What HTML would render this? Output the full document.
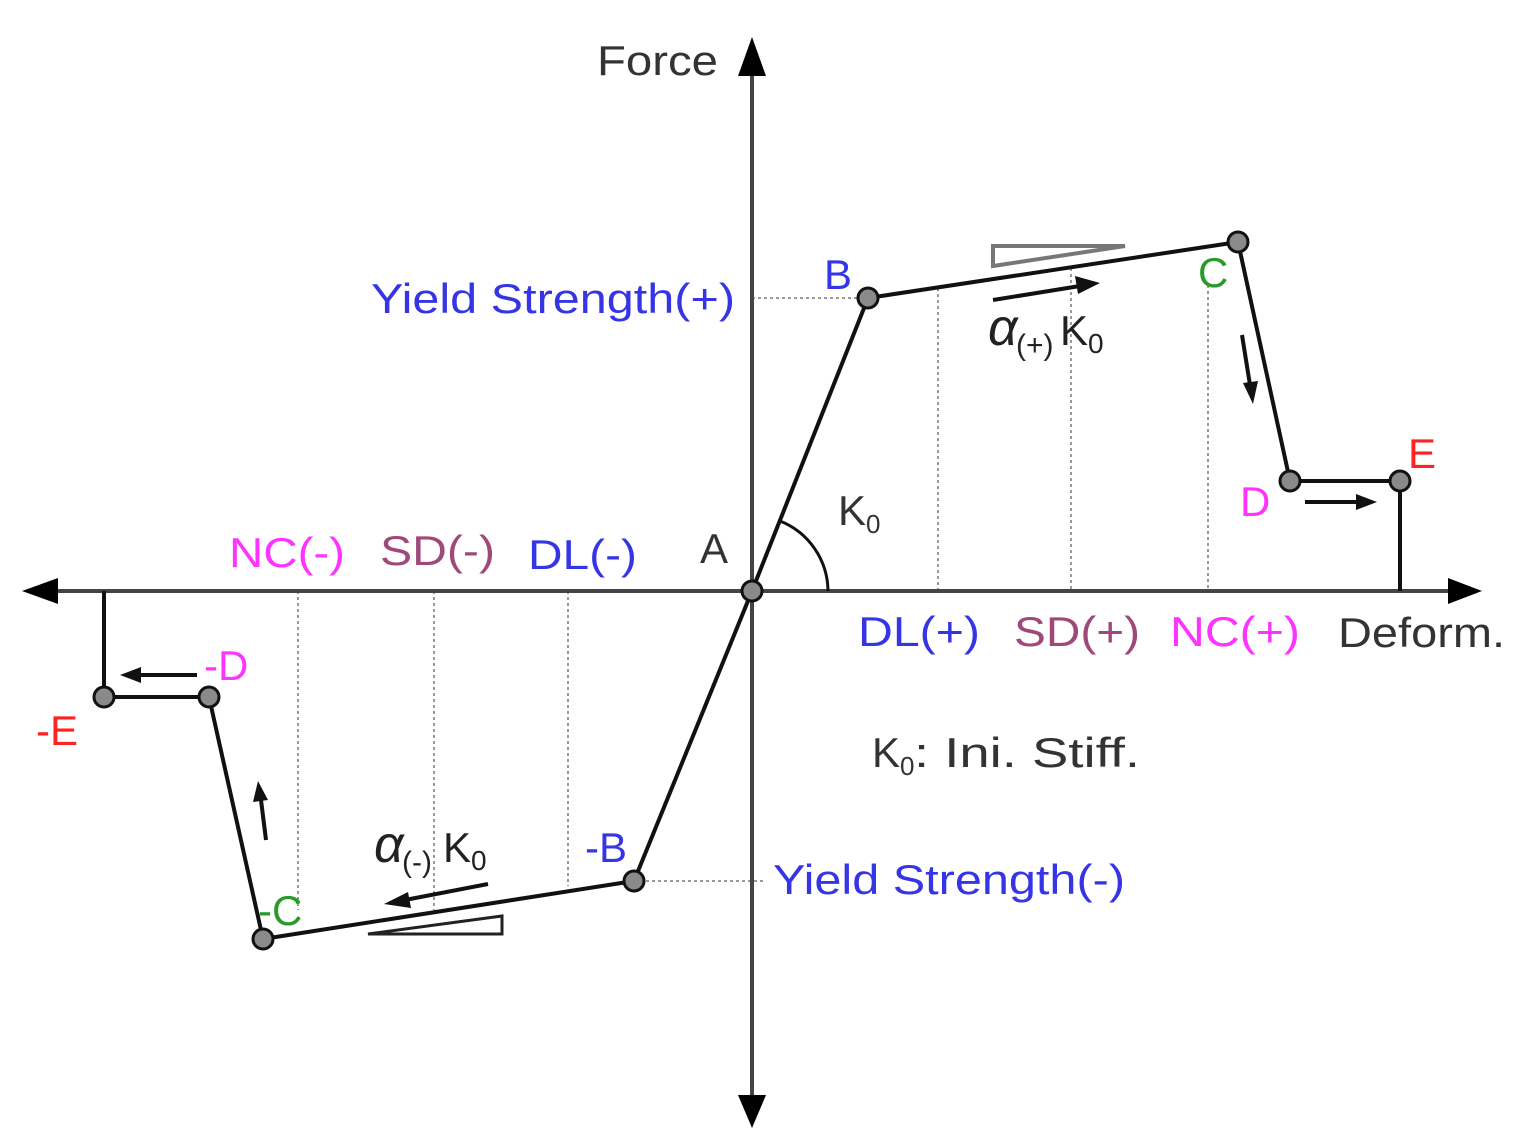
<!DOCTYPE html>
<html><head><meta charset="utf-8"><style>
html,body{margin:0;padding:0;background:#fff;}
svg{display:block;}
text{font-family:"Liberation Sans",sans-serif;}
</style></head><body>
<svg width="1538" height="1141" viewBox="0 0 1538 1141" xmlns="http://www.w3.org/2000/svg">
<g stroke="#999" stroke-width="2" stroke-dasharray="3,3" fill="none">
<line x1="938" y1="288" x2="938" y2="591"/>
<line x1="1071" y1="268" x2="1071" y2="591"/>
<line x1="1208" y1="285" x2="1208" y2="591"/>
<line x1="568" y1="591" x2="568" y2="886"/>
<line x1="434" y1="591" x2="434" y2="910"/>
<line x1="298" y1="591" x2="298" y2="910"/>
<line x1="752" y1="298" x2="868" y2="298"/>
<line x1="634" y1="881" x2="765" y2="881"/>
</g>
<g stroke="#444" stroke-width="4" fill="none">
<line x1="40" y1="591" x2="1460" y2="591"/>
<line x1="752" y1="70" x2="752" y2="1100"/>
</g>
<polygon points="738,76 766,76 752,37" fill="#000"/>
<polygon points="738,1095 766,1095 752,1128" fill="#000"/>
<polygon points="1448,578 1448,604 1482,591" fill="#000"/>
<polygon points="58,578 58,604 22,591" fill="#000"/>
<g stroke="#111" stroke-width="4" fill="none" stroke-linejoin="round">
<polyline points="1400,591 1400,481 1290,481 1238,242 868,298 752,591 634,881 263,939 209,697 104,697 104,591"/>
</g>
<path d="M828,591 A76 76 0 0 0 780,521" stroke="#111" stroke-width="3" fill="none"/>
<polygon points="993,246 1125,246 993,266" fill="none" stroke="#777" stroke-width="4"/>
<polygon points="368,934 502,934 502,916" fill="none" stroke="#222" stroke-width="3"/>
<g stroke="#111" stroke-width="4" fill="#111">
<line x1="993" y1="300" x2="1080" y2="286"/>
<polygon points="1100,283 1075,276 1078,294" stroke="none"/>
<line x1="488" y1="884" x2="405" y2="900"/>
<polygon points="384,904 408,892 411,908" stroke="none"/>
<line x1="1242" y1="335" x2="1250" y2="385"/>
<polygon points="1253,404 1243,383 1258,381" stroke="none"/>
<line x1="266" y1="840" x2="261" y2="800"/>
<polygon points="258,781 253,802 268,800" stroke="none"/>
<line x1="1305" y1="502" x2="1358" y2="502"/>
<polygon points="1377,502 1356,494 1356,510" stroke="none"/>
<line x1="197" y1="675" x2="140" y2="675"/>
<polygon points="120,675 141,667 141,683" stroke="none"/>
</g>
<g fill="#8a8a8a" stroke="#111" stroke-width="3">
<circle cx="752" cy="591" r="10"/>
<circle cx="868" cy="298" r="10"/>
<circle cx="1238" cy="242" r="10"/>
<circle cx="1290" cy="481" r="10"/>
<circle cx="1400" cy="481" r="10"/>
<circle cx="634" cy="881" r="10"/>
<circle cx="263" cy="939" r="10"/>
<circle cx="209" cy="697" r="10"/>
<circle cx="104" cy="697" r="10"/>
</g>
<g font-size="42">
<text x="597" y="75" fill="#333" textLength="121" lengthAdjust="spacingAndGlyphs">Force</text>
<text x="1338" y="647" fill="#333" textLength="167" lengthAdjust="spacingAndGlyphs">Deform.</text>
<text x="371" y="313" fill="#3535e6" textLength="364" lengthAdjust="spacingAndGlyphs">Yield Strength(+)</text>
<text x="773" y="894" fill="#3535e6" textLength="352" lengthAdjust="spacingAndGlyphs">Yield Strength(-)</text>
<text x="824" y="289" fill="#3535e6">B</text>
<text x="585" y="862" fill="#3535e6">-B</text>
<text x="1198" y="287" fill="#2a9a2a">C</text>
<text x="258" y="925" fill="#2a9a2a">-C</text>
<text x="1240" y="516" fill="#ff33ff">D</text>
<text x="204" y="680" fill="#ff33ff">-D</text>
<text x="1408" y="468" fill="#ff2222">E</text>
<text x="36" y="745" fill="#ff2222">-E</text>
<text x="700" y="563" fill="#333">A</text>
<text x="858" y="646" fill="#3535e6" textLength="122" lengthAdjust="spacingAndGlyphs">DL(+)</text>
<text x="1014" y="646" fill="#a04878" textLength="126" lengthAdjust="spacingAndGlyphs">SD(+)</text>
<text x="1170" y="646" fill="#ff33ff" textLength="130" lengthAdjust="spacingAndGlyphs">NC(+)</text>
<text x="528" y="569" fill="#3535e6" textLength="109" lengthAdjust="spacingAndGlyphs">DL(-)</text>
<text x="380" y="565" fill="#a04878" textLength="115" lengthAdjust="spacingAndGlyphs">SD(-)</text>
<text x="229" y="567" fill="#ff33ff" textLength="116" lengthAdjust="spacingAndGlyphs">NC(-)</text>
<text x="838" y="525" fill="#333">K<tspan font-size="26" dy="8">0</tspan></text>
<text x="872" y="767" fill="#333">K<tspan font-size="26" dy="8">0</tspan></text>
<text x="914" y="767" fill="#333" textLength="226" lengthAdjust="spacingAndGlyphs">: Ini.  Stiff.</text>
<text x="988" y="345" fill="#222" font-family="Liberation Serif,serif" font-style="italic" font-size="52">α</text>
<text x="1016" y="355" fill="#222" font-size="30">(+)</text>
<text x="1060" y="345" fill="#222">K<tspan font-size="28" dy="8">0</tspan></text>
<text x="374" y="862" fill="#222" font-family="Liberation Serif,serif" font-style="italic" font-size="52">α</text>
<text x="402" y="872" fill="#222" font-size="30">(-)</text>
<text x="443" y="862" fill="#222">K<tspan font-size="28" dy="8">0</tspan></text>
</g>
</svg>
</body></html>
